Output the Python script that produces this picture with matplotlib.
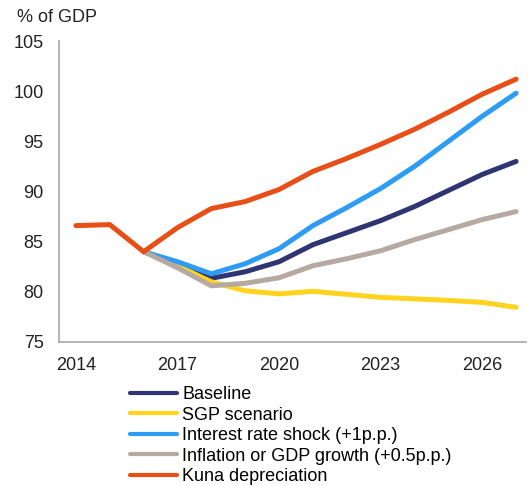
import numpy as np
import matplotlib.pyplot as plt

plt.rcParams['font.family'] = ['Liberation Sans', 'DejaVu Sans']

# public debt projections, % of GDP
years_hist = np.arange(2014, 2028)
years = np.arange(2016, 2028)

baseline = [84.0, 82.8, 81.35, 82.0, 83.0, 84.7, 85.9, 87.1, 88.5, 90.1, 91.7, 93.0]
sgp = [84.0, 82.6, 81.0, 80.1, 79.8, 80.05, 79.75, 79.45, 79.3, 79.15, 78.95, 78.45]
interest = [84.0, 83.0, 81.8, 82.8, 84.3, 86.6, 88.4, 90.3, 92.5, 95.0, 97.5, 99.8]
inflation = [84.0, 82.4, 80.6, 80.85, 81.4, 82.6, 83.3, 84.1, 85.2, 86.2, 87.2, 88.0]
kuna = [86.6, 86.7, 84.0, 86.4, 88.3, 89.0, 90.2, 92.0, 93.3, 94.7, 96.2, 97.9, 99.7, 101.2]

fig = plt.figure(figsize=(5.28, 4.86), dpi=100)
ax = fig.add_axes([0.1117, 0.2963, 0.885, 0.6193])

lw = 3.6
ax.plot(years, baseline, color='#2E3572', lw=lw, label='Baseline', solid_capstyle='round')
ax.plot(years, sgp, color='#FFD31E', lw=lw, label='SGP scenario', solid_capstyle='round')
ax.plot(years, interest, color='#2E9CF4', lw=lw, label='Interest rate shock (+1p.p.)', solid_capstyle='round')
ax.plot(years, inflation, color='#B6A9A1', lw=lw, label='Inflation or GDP growth (+0.5p.p.)', solid_capstyle='round')
ax.plot(years_hist, kuna, color='#E84E15', lw=lw, label='Kuna depreciation', solid_capstyle='round')

ax.set_xlim(2013.5, 2027.3)
ax.set_ylim(75, 105)
ax.set_yticks(range(75, 106, 5))
ax.set_xticks([2014, 2017, 2020, 2023, 2026])

for s in ['top', 'right']:
    ax.spines[s].set_visible(False)
for s in ['left', 'bottom']:
    ax.spines[s].set_color('#A6A6A6')
    ax.spines[s].set_linewidth(1.2)
ax.tick_params(axis='both', length=0, labelsize=13, colors='#222222')
ax.tick_params(axis='y', pad=11)
ax.tick_params(axis='x', pad=11)

fig.text(0.032, 0.963, '% of GDP', fontsize=13, color='#222222', va='center', ha='left')

leg = fig.legend(loc='upper left', bbox_to_anchor=(0.246, 0.205), frameon=False,
                 fontsize=13, handlelength=2.6, handletextpad=0.3,
                 labelspacing=0.19, borderpad=0, borderaxespad=0)
for line in leg.get_lines():
    line.set_linewidth(3.0)

fig.savefig('out.png', dpi=100)
